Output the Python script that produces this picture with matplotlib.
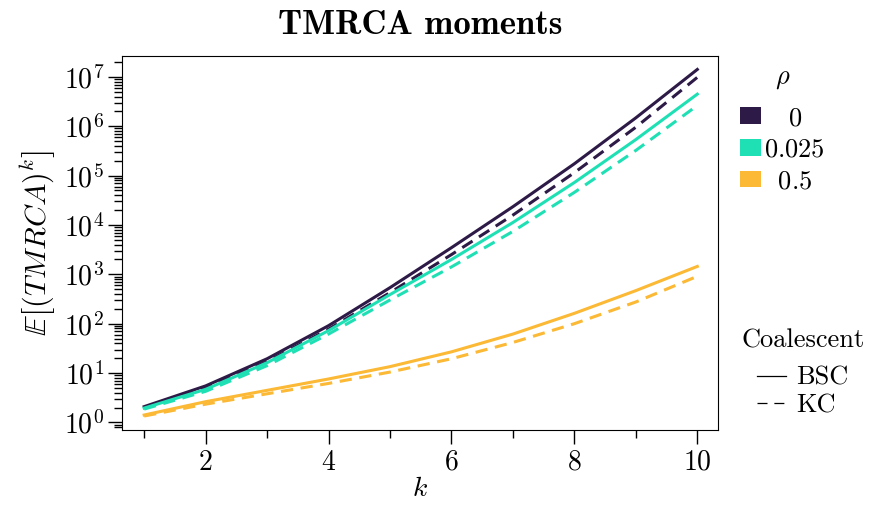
import numpy as np
import matplotlib
matplotlib.use("Agg")
from matplotlib import pyplot as plt
from matplotlib.patches import Patch
from matplotlib.lines import Line2D
from matplotlib.ticker import LogLocator, MultipleLocator

# moments E[(TMRCA)^k] (log10 values)
k = [1, 2, 3, 4, 5, 6, 7, 8, 9, 10]
rho_labels = ["0", "0.025", "0.5"]
colors = ["#2e1a47", "#1fe0b4", "#fbb935"]
bsc_log = [
    [0.32, 0.74, 1.29, 1.96, 2.73, 3.54, 4.37, 5.24, 6.17, 7.15],
    [0.29, 0.67, 1.21, 1.86, 2.59, 3.30, 4.05, 4.86, 5.73, 6.65],
    [0.15, 0.42, 0.65, 0.88, 1.13, 1.43, 1.79, 2.21, 2.67, 3.16],
]
kc_log = [
    [0.30, 0.70, 1.23, 1.89, 2.63, 3.40, 4.20, 5.06, 5.98, 6.99],
    [0.27, 0.63, 1.15, 1.79, 2.48, 3.15, 3.87, 4.66, 5.51, 6.42],
    [0.13, 0.37, 0.58, 0.79, 1.02, 1.29, 1.62, 2.00, 2.44, 2.96],
]

plt.rcParams["mathtext.fontset"] = "cm"
plt.rcParams["font.family"] = "serif"
plt.rcParams["font.serif"] = ["cmr10"]
plt.rcParams["axes.formatter.use_mathtext"] = True

fig = plt.figure(figsize=(8.78, 5.08), dpi=100)
ax = fig.add_axes([0.139, 0.154, 0.679, 0.736])

dash = (0, (4, 2.5))
for i in range(len(rho_labels)):
    ax.plot(k, 10 ** np.array(bsc_log[i]), color=colors[i], lw=2.2)
    ax.plot(k, 10 ** np.array(kc_log[i]), color=colors[i], lw=2.2, linestyle=dash)

ax.set_yscale("log")
ax.set_ylim(0.71, 2.66e7)
ax.set_xlim(0.64, 10.34)
ax.yaxis.set_major_locator(LogLocator(base=10, numticks=20))
ax.yaxis.set_minor_locator(LogLocator(base=10, subs=np.arange(2, 10), numticks=20))
ax.yaxis.set_minor_formatter(plt.NullFormatter())
ax.xaxis.set_major_locator(MultipleLocator(2))
ax.xaxis.set_minor_locator(MultipleLocator(1))
ax.tick_params(which="major", length=10, width=1.0, labelsize=20, pad=4)
ax.tick_params(which="minor", length=6, width=1.0)
ax.tick_params(axis="y", which="major", pad=3)

ax.set_title("TMRCA moments", fontfamily="cmb10", fontsize=25, pad=16)
ax.set_xlabel(r"$k$", fontsize=20, labelpad=0)
ax.set_ylabel(r"$\mathbb{E}\left[(TMRCA)^k\right]$", fontsize=21.5, labelpad=4)

# rho legend, labels centered like the original
pads = [r"$\hspace{1.07}0$", r"$0.025$", r"$\hspace{0.6}0.5$"]
rho_handles = [Patch(facecolor=c, edgecolor="none") for c in colors]
leg1 = fig.legend(rho_handles, pads, title=r"$\rho$", loc="upper left",
                  bbox_to_anchor=(0.831, 0.893), frameon=False, fontsize=19,
                  title_fontsize=19, handlelength=0.8, handleheight=0.6,
                  handletextpad=0.1, labelspacing=0.3, borderaxespad=0)
leg1._legend_box.sep = 11

coal_handles = [Line2D([], [], color="black", lw=0.9),
                Line2D([], [], color="black", lw=0.9, linestyle=(0, (8, 5.5)))]
leg2 = fig.legend(coal_handles, ["BSC", "KC"], title="Coalescent", loc="upper left",
                  bbox_to_anchor=(0.832, 0.374), frameon=False, fontsize=19,
                  title_fontsize=19, handlelength=1.1, handletextpad=0.4,
                  labelspacing=0.15, borderaxespad=0)
leg2._legend_box.sep = 10

fig.savefig("out.png", dpi=100)
